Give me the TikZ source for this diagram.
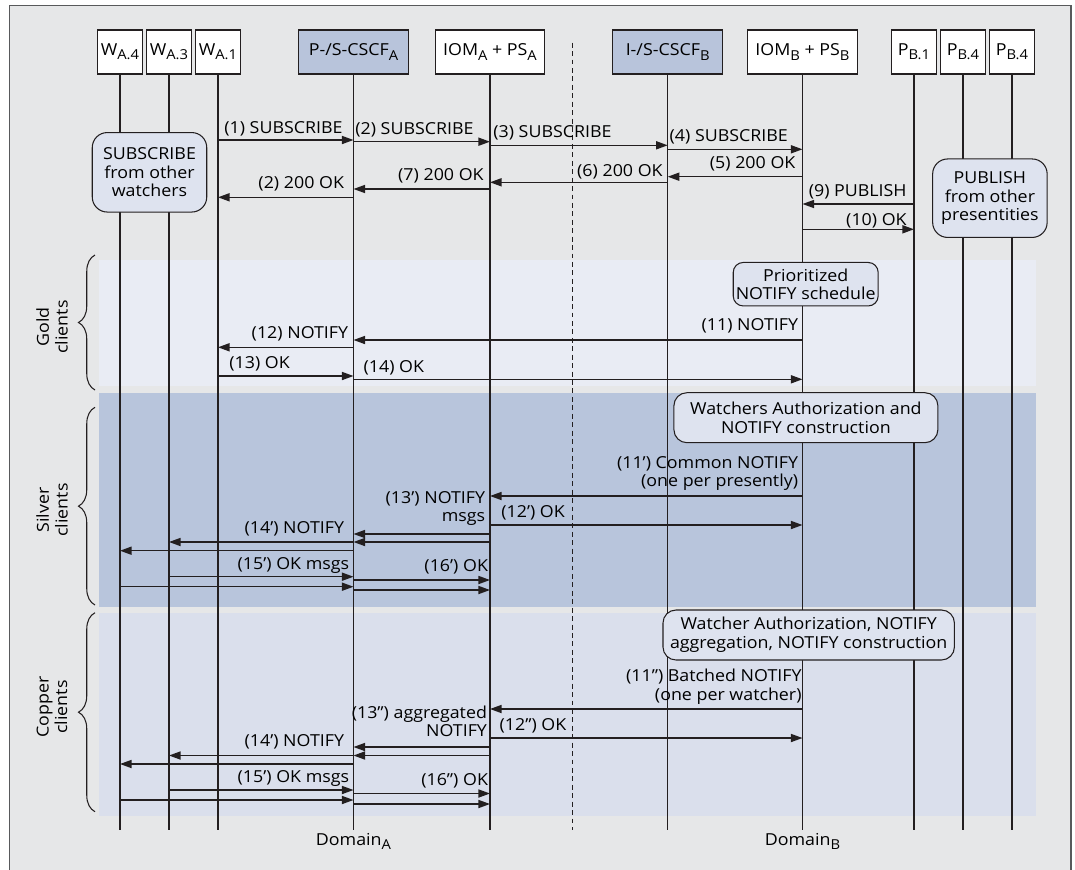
\documentclass[tikz,border=0pt]{standalone}
\usepackage{fontspec}
\setmainfont[FakeStretch=1.08]{Open Sans}
\usetikzlibrary{arrows.meta,decorations.pathreplacing}

\newcommand{\lowsub}[1]{\raisebox{-2.3pt}{\fontsize{7.8}{8}\selectfont #1}}

\begin{document}
\begin{tikzpicture}[x=0.02cm,y=-0.02cm,>={Triangle[length=6.6pt,width=4.6pt]},
	every node/.style={font=\fontsize{9.4}{10.6}\selectfont},
	hdr/.style={draw=linecol,line width=0.6pt,fill=white,minimum height=0.88cm,inner sep=1pt},
	life/.style={draw=linecol,line width=0.6pt},
	msg/.style={->,draw=linecol,line width=0.8pt},
	note/.style={draw=linecol,line width=0.6pt,fill=notefill,rounded corners=0.26cm,align=center,inner sep=1pt},
	lab/.style={inner sep=0pt},
	brc/.style={draw=linecol,line width=0.6pt,decorate,decoration={brace,amplitude=0.33cm}}]

\definecolor{bggray}{HTML}{E6E7E8}
\definecolor{framecol}{HTML}{58595B}
\definecolor{linecol}{HTML}{231F20}
\definecolor{boxblue}{HTML}{B8C4DB}
\definecolor{goldband}{HTML}{E9ECF4}
\definecolor{silverband}{HTML}{B8C5DC}
\definecolor{copperband}{HTML}{DADFEC}
\definecolor{notefill}{HTML}{DEE3EF}

\useasboundingbox (0,0) rectangle (1075,869);

\begin{scope}
\clip (0,0) rectangle (1075,869);
\filldraw[fill=bggray,draw=framecol,line width=0.6pt] (9.3,5.7) rectangle (1071,900);
\end{scope}

% client classes
\fill[goldband] (99.2,260) rectangle (1036,385.7);
\fill[silverband] (99.2,393.3) rectangle (1036,606.7);
\fill[copperband] (99.2,613.3) rectangle (1036,816);

\draw[linecol,line width=0.6pt,dash pattern=on 2.8pt off 2pt] (572.2,42.7) -- (572.2,830);

% entities
\node[hdr,minimum width=0.9cm] (wa4) at (120,52) {W\lowsub{A.4}};
\node[hdr,minimum width=0.9cm] (wa3) at (169,52) {W\lowsub{A.3}};
\node[hdr,minimum width=0.9cm] (wa1) at (218,52) {W\lowsub{A.1}};
\node[hdr,fill=boxblue,minimum width=2.2cm] (pcscf) at (353.5,52) {P-/S-CSCF\lowsub{A}};
\node[hdr,minimum width=2.19cm] (ioma) at (490,52) {IOM\lowsub{A} + PS\lowsub{A}};
\node[hdr,fill=boxblue,minimum width=2.2cm] (icscf) at (667.7,52) {I-/S-CSCF\lowsub{B}};
\node[hdr,minimum width=2.19cm] (iomb) at (802.5,52) {IOM\lowsub{B} + PS\lowsub{B}};
\node[hdr,minimum width=0.9cm] (pb1) at (914,52) {P\lowsub{B.1}};
\node[hdr,minimum width=0.9cm] (pb4) at (963,52) {P\lowsub{B.4}};
\node[hdr,minimum width=0.9cm] (pb4b) at (1012,52) {P\lowsub{B.4}};

\foreach \n in {wa4,wa3,wa1,pcscf,ioma,icscf,iomb,pb1,pb4,pb4b}
	\draw[life] (\n.south) -- (\n.south |- 0,830);

% notes
\node[note,rounded corners=0.3cm,minimum width=2.29cm,minimum height=1.59cm] (subw) at (149.5,172.3) {SUBSCRIBE\\from other\\watchers};
\node[note,rounded corners=0.3cm,minimum width=2.29cm,minimum height=1.57cm] (pubp) at (989.9,198.2) {PUBLISH\\from other\\presentities};
\node[note,rounded corners=0.2cm,minimum width=2.9cm,minimum height=0.87cm] (prio) at (805.7,284.2) {Prioritized\\NOTIFY schedule};
\node[note,minimum width=5.28cm,minimum height=1cm] (auth) at (805.9,417.7) {Watchers Authorization and\\NOTIFY construction};
\node[note,minimum width=5.83cm,minimum height=1cm] (aggr) at (808.7,635) {Watcher Authorization, NOTIFY\\aggregation, NOTIFY construction};

% subscription and publication
\draw[msg] (wa1 |- 0,140) -- (pcscf |- 0,140);
\draw[msg] (pcscf |- 0,141.7) -- (ioma |- 0,141.7);
\draw[msg] (ioma |- 0,145.3) -- (icscf |- 0,145.3);
\draw[msg] (icscf |- 0,149.3) -- (iomb |- 0,149.3);
\draw[msg] (iomb |- 0,176.7) -- (icscf |- 0,176.7);
\draw[msg] (icscf |- 0,182.3) -- (ioma |- 0,182.3);
\draw[msg] (ioma |- 0,189) -- (pcscf |- 0,189);
\draw[msg] (pcscf |- 0,197.3) -- (wa1 |- 0,197.3);
\draw[msg] (pb1 |- 0,204) -- (iomb |- 0,204);
\draw[msg] (iomb |- 0,229.3) -- (pb1 |- 0,229.3);

\node[lab,anchor=base west] (l1) at (224,133.3) {(1) SUBSCRIBE};
\node[lab,anchor=base west] (l2) at (355,134) {(2) SUBSCRIBE};
\node[lab,anchor=base west] (l3) at (493,137) {(3) SUBSCRIBE};
\node[lab,anchor=base west] (l4) at (669.3,141.5) {(4) SUBSCRIBE};
\node[lab,anchor=base east] (l5) at (795.7,168.3) {(5) 200 OK};
\node[lab,anchor=base east] (l6) at (663,176.5) {(6) 200 OK};
\node[lab,anchor=base east] (l7) at (484,180) {(7) 200 OK};
\node[lab,anchor=base east] (l8) at (344.3,188.3) {(2) 200 OK};
\node[lab,anchor=base east] (l9) at (907,196) {(9) PUBLISH};
\node[lab,anchor=base east] (l10) at (907,225) {(10) OK};

% gold
\draw[msg] (iomb |- 0,340) -- (pcscf |- 0,340);
\draw[msg] (pcscf |- 0,347.3) -- (wa1 |- 0,347.3);
\draw[msg] (wa1 |- 0,376) -- (pcscf |- 0,376);
\draw[msg] (pcscf |- 0,379.3) -- (iomb |- 0,379.3);

\node[lab,anchor=base east] (l11) at (798.4,330.7) {(11) NOTIFY};
\node[lab,anchor=base east] (l12) at (348.5,338.3) {(12) NOTIFY};
\node[lab,anchor=base west] (l13) at (229,368.3) {(13) OK};
\node[lab,anchor=base west] (l14) at (363.3,372.7) {(14) OK};

% silver
\draw[msg] (iomb |- 0,496) -- (ioma |- 0,496);
\draw[msg] (ioma |- 0,525) -- (iomb |- 0,525);
\foreach \y in {534,542}
	\draw[msg] (ioma |- 0,\y) -- (pcscf |- 0,\y);
\draw[msg] (pcscf |- 0,542) -- (wa3 |- 0,542);
\draw[msg] (pcscf |- 0,550.7) -- (wa4 |- 0,550.7);
\draw[msg] (wa3 |- 0,576.7) -- (pcscf |- 0,576.7);
\draw[msg] (wa4 |- 0,586.7) -- (pcscf |- 0,586.7);
\foreach \y in {580,590}
	\draw[msg] (pcscf |- 0,\y) -- (ioma |- 0,\y);

\node[lab,align=right,anchor=base east] (l11s) at (798.4,486.7) {(11’) Common NOTIFY\\(one per presently)};
\node[lab,align=right,anchor=base east] (l13s) at (485.5,521.7) {(13’) NOTIFY\\msgs};
\node[lab,anchor=base west] (l12s) at (501,517.3) {(12’) OK};
\node[lab,anchor=base east] (l14s) at (344.4,533.3) {(14’) NOTIFY};
\node[lab,anchor=base east] (l15s) at (349.5,569.3) {(15’) OK msgs};
\node[lab,anchor=base east] (l16s) at (488.3,571.7) {(16’) OK};

% copper
\draw[msg] (iomb |- 0,709) -- (ioma |- 0,709);
\draw[msg] (ioma |- 0,738) -- (iomb |- 0,738);
\foreach \y in {747,755.5}
	\draw[msg] (ioma |- 0,\y) -- (pcscf |- 0,\y);
\draw[msg] (pcscf |- 0,755.5) -- (wa3 |- 0,755.5);
\draw[msg] (pcscf |- 0,764) -- (wa4 |- 0,764);
\draw[msg] (wa3 |- 0,790) -- (pcscf |- 0,790);
\draw[msg] (wa4 |- 0,800) -- (pcscf |- 0,800);
\foreach \y in {793.5,804}
	\draw[msg] (pcscf |- 0,\y) -- (ioma |- 0,\y);

\node[lab,align=right,anchor=base east] (l11c) at (801.9,700) {(11”) Batched NOTIFY\\(one per watcher)};
\node[lab,align=right,anchor=base east] (l13c) at (487.3,736.7) {(13”) aggregated\\NOTIFY};
\node[lab,anchor=base west] (l12c) at (499.3,730) {(12”) OK};
\node[lab,anchor=base east] (l14c) at (344.4,746.5) {(14’) NOTIFY};
\node[lab,anchor=base east] (l15c) at (349.5,782.5) {(15’) OK msgs};
\node[lab,anchor=base east] (l16c) at (488.3,785) {(16”) OK};

% classes
\draw[brc] (95,390) -- (95,255);
\draw[brc] (95,605) -- (95,407.3);
\draw[brc] (95,811.7) -- (95,612.7);
\node[rotate=90,align=center] (gold) at (52,327) {Gold\\clients};
\node[rotate=90,align=center] (silver) at (52,510) {Silver\\clients};
\node[rotate=90,align=center] (copper) at (52,707) {Copper\\clients};

\node[anchor=base] (doma) at (353.5,845) {Domain\lowsub{A}};
\node[anchor=base] (domb) at (802.5,845) {Domain\lowsub{B}};

\end{tikzpicture}
\end{document}
